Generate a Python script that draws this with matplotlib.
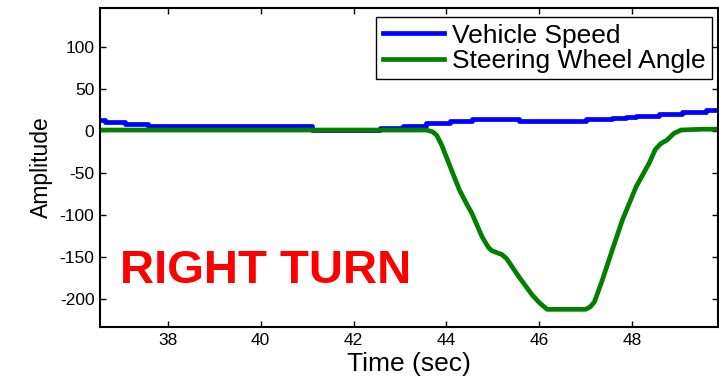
import matplotlib
matplotlib.use("Agg")
import matplotlib.pyplot as plt

plt.rcParams["font.family"] = ["Liberation Sans", "DejaVu Sans"]
plt.rcParams["axes.unicode_minus"] = False

# vehicle speed (step-like)
speed_t = [36.54, 36.65, 37.08, 37.57, 41.10, 42.56, 43.06, 43.57, 44.07, 44.56,
           45.57, 47.01, 47.57, 47.87, 48.09, 48.58, 49.08, 49.59, 49.85]
speed_v = [13, 10, 8, 6, 1.5, 4, 6, 9, 12, 14,
           12, 14, 15, 17, 18, 20, 22, 25, 25]

# steering wheel angle
steer_t = [36.54, 43.57, 43.70, 43.79, 43.90, 44.00, 44.15, 44.28, 44.42, 44.55,
           44.77, 44.90, 44.97, 45.10, 45.20, 45.30, 45.57, 45.85, 46.00, 46.17,
           47.00, 47.10, 47.19, 47.36, 47.57, 47.79, 48.00, 48.09, 48.37, 48.50,
           48.62, 48.75, 48.90, 49.05, 49.50, 49.85]
steer_v = [1, 1, -1, -5, -17, -31, -52, -70, -85, -98,
           -126, -138, -142, -145, -147, -152, -174, -195, -204, -212,
           -212, -209, -203, -177, -142, -106, -78, -66, -38, -22,
           -15, -11, -3, 1, 2, 2]

xticks = [38, 40, 42, 44, 46, 48]
yticks = [-200, -150, -100, -50, 0, 50, 100]

fig = plt.figure(figsize=(7.19, 3.78), dpi=100)
ax = fig.add_axes([100 / 719, 1 - 327 / 378, 618 / 719, 319 / 378])

ax.plot(speed_t, speed_v, color="#0000ff", lw=3.4, drawstyle="steps-post",
        label="Vehicle Speed")
ax.plot(steer_t, steer_v, color="#008000", lw=3.4, label="Steering Wheel Angle")

ax.set_xlim(36.54, 49.85)
ax.set_ylim(-233, 146)
ax.set_xticks(xticks)
ax.set_yticks(yticks)
ax.tick_params(direction="in", top=True, right=True, length=4, width=1,
               labelsize=12.5, pad=4)
for s in ax.spines.values():
    s.set_linewidth(1.5)

ax.set_xlabel("Time (sec)", fontsize=19, labelpad=3)
ax.set_ylabel("Amplitude", fontsize=16.5, labelpad=5)

ax.text(36.97, -181, "RIGHT TURN", color="red", fontsize=34, fontweight="bold",
        ha="left", va="baseline")

leg = ax.legend(loc="upper right", bbox_to_anchor=(0.99, 0.972), fontsize=19,
                fancybox=False, framealpha=1, edgecolor="black",
                handlelength=2.3, handletextpad=0.3, labelspacing=0.05,
                borderpad=0.25, borderaxespad=0)
leg.get_frame().set_linewidth(1)

fig.savefig("out.png", dpi=100)
